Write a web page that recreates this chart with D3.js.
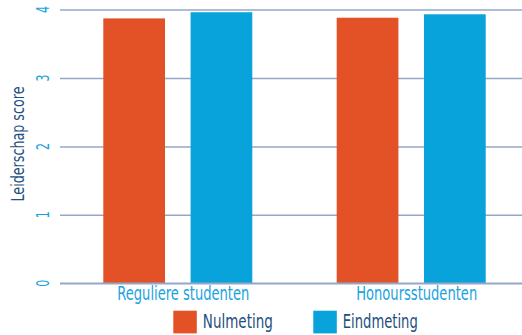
<!DOCTYPE html>
<html>
<head>
<meta charset="utf-8">
<script src="https://cdn.jsdelivr.net/npm/d3@7"></script>
<style>
  body { margin: 0; background: #fff; }
  text { font-family: "DejaVu Sans Condensed", "Liberation Sans Narrow", sans-serif; }
</style>
</head>
<body>
<div class="chart"></div>
<script>
// data
const groups = ['Reguliere studenten', 'Honoursstudenten'];
const series = ['Nulmeting', 'Eindmeting'];
const nulmeting = [3.87, 3.88];
const eindmeting = [3.96, 3.93];
const yTicks = [0, 1, 2, 3, 4];
const colors = ['#e35226', '#08a3da'];

const data = groups.map((g, i) => ({ group: g, values: [nulmeting[i], eindmeting[i]] }));

// measured text widths of the condensed font in the original
const groupLabelLen = [132, 121];
const legendLen = [70, 75];

const width = 522, height = 335;
const svg = d3.select('.chart').append('svg')
  .attr('width', width).attr('height', height);

// scales
const y = d3.scaleLinear().domain([0, 4]).range([283.3, 9.5]);
const x0 = d3.scaleBand().domain(groups).range([66.6, 533.4]);
const x1 = d3.scaleBand().domain(series).range([36.7, 185.7]).paddingInner(0.293);

// gridlines
const yAxis = d3.axisLeft(y).tickValues(yTicks).tickSize(-(width - 60)).tickFormat('');
const grid = svg.append('g').attr('transform', 'translate(60,0)').call(yAxis);
grid.select('.domain').remove();
grid.selectAll('.tick line').attr('stroke', '#95a7c9').attr('stroke-width', 1.5);

// tick labels (rotated)
svg.append('g').selectAll('text')
  .data(yTicks).enter().append('text')
  .attr('transform', d => `translate(49,${y(d)}) rotate(-90)`)
  .attr('text-anchor', 'middle')
  .attr('fill', '#1ba3de')
  .attr('textLength', 7).attr('lengthAdjust', 'spacingAndGlyphs')
  .style('font-size', '18px')
  .text(d => d);

// bars
const g = svg.selectAll('.grp').data(data).enter().append('g')
  .attr('transform', d => `translate(${x0(d.group)},0)`);
g.selectAll('rect')
  .data(d => d.values.map((v, j) => ({ key: series[j], value: v, idx: j })))
  .enter().append('rect')
  .attr('x', d => x1(d.key))
  .attr('y', d => y(d.value))
  .attr('width', x1.bandwidth())
  .attr('height', d => y(0) - y(d.value))
  .attr('fill', d => colors[d.idx]);

// x axis line + labels
svg.append('line').attr('x1', 60).attr('x2', width)
  .attr('y1', y(0)).attr('y2', y(0))
  .attr('stroke', '#95a7c9').attr('stroke-width', 1.5);
svg.append('g').selectAll('text').data(groups).enter().append('text')
  .attr('x', d => x0(d) + x0.bandwidth() / 2)
  .attr('y', 300)
  .attr('text-anchor', 'middle')
  .attr('fill', '#1ba3de')
  .attr('textLength', (d, i) => groupLabelLen[i]).attr('lengthAdjust', 'spacingAndGlyphs')
  .style('font-size', '19px')
  .text(d => d);

// y title
svg.append('text')
  .attr('transform', 'translate(23.5,144) rotate(-90)')
  .attr('text-anchor', 'middle')
  .attr('fill', '#1d4f80')
  .attr('textLength', 115).attr('lengthAdjust', 'spacingAndGlyphs')
  .style('font-size', '18px')
  .text('Leiderschap score');

// legend
const legendX = [173.3, 313.3];
const legend = svg.selectAll('.leg').data(series).enter().append('g')
  .attr('transform', (d, i) => `translate(${legendX[i]},310.7)`);
legend.append('rect').attr('width', 23.5).attr('height', 22.7)
  .attr('fill', (d, i) => colors[i]);
legend.append('text').attr('x', 29.5).attr('y', 17)
  .attr('fill', '#1d4f80')
  .attr('textLength', (d, i) => legendLen[i]).attr('lengthAdjust', 'spacingAndGlyphs')
  .style('font-size', '19px')
  .text(d => d);
</script>
</body>
</html>
